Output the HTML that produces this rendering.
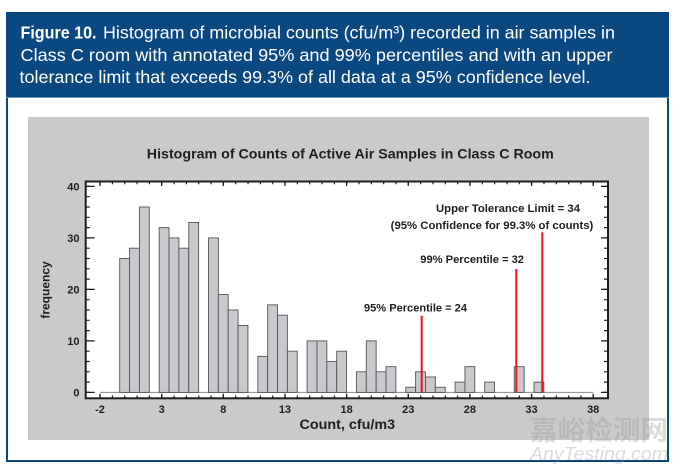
<!DOCTYPE html>
<html><head><meta charset="utf-8"><style>html,body{margin:0;padding:0;background:#fff;}svg{display:block;}</style></head>
<body>
<svg width="680" height="472" viewBox="0 0 680 472" xmlns="http://www.w3.org/2000/svg">
<rect x="0" y="0" width="680" height="472" fill="#fff"/>
<rect x="7" y="13" width="661" height="448" fill="#fff" stroke="#0a4882" stroke-width="2"/>
<rect x="6" y="12" width="663" height="85" fill="#0a4882"/>
<line x1="6" y1="97.5" x2="669" y2="97.5" stroke="#6d93bf" stroke-width="1"/>
<g font-family="'Liberation Sans', Arial, sans-serif" font-size="17.5" fill="#fff">
<text x="20.5" y="38.5" font-weight="bold" textLength="76" lengthAdjust="spacingAndGlyphs">Figure 10.</text>
<text x="103" y="38.5" textLength="512" lengthAdjust="spacingAndGlyphs">Histogram of microbial counts (cfu/m³) recorded in air samples in</text>
<text x="20.5" y="60.8" textLength="592" lengthAdjust="spacingAndGlyphs">Class C room with annotated 95% and 99% percentiles and with an upper</text>
<text x="19.5" y="83" textLength="571" lengthAdjust="spacingAndGlyphs">tolerance limit that exceeds 99.3% of all data at a 95% confidence level.</text>
</g>
<rect x="28" y="117" width="621" height="323" fill="#c9cacc"/>
<g font-family="'Liberation Sans', Arial, sans-serif" font-weight="bold" fill="#1e1e1e">
<text x="350.3" y="158.5" font-size="14" text-anchor="middle" textLength="407" lengthAdjust="spacingAndGlyphs">Histogram of  Counts of Active Air Samples in Class C Room</text>
</g>
<!-- plot area -->
<rect x="85.7" y="181.5" width="522.3" height="216.8" fill="#fff"/>
<line x1="100" y1="392.4" x2="593.2" y2="392.4" stroke="#8a8a8a" stroke-width="1"/>
<g fill="#c8c9cc" stroke="#555" stroke-width="0.9">
<rect x="119.70" y="258.5" width="9.86" height="133.9"/>
<rect x="129.56" y="248.2" width="9.86" height="144.2"/>
<rect x="139.43" y="207.0" width="9.86" height="185.4"/>
<rect x="159.16" y="227.6" width="9.86" height="164.8"/>
<rect x="169.02" y="237.9" width="9.86" height="154.5"/>
<rect x="178.88" y="248.2" width="9.86" height="144.2"/>
<rect x="188.75" y="222.45" width="9.86" height="169.95"/>
<rect x="208.48" y="237.9" width="9.86" height="154.5"/>
<rect x="218.34" y="294.55" width="9.86" height="97.85"/>
<rect x="228.20" y="310.0" width="9.86" height="82.4"/>
<rect x="238.07" y="325.45" width="9.86" height="66.95"/>
<rect x="257.80" y="356.35" width="9.86" height="36.05"/>
<rect x="267.66" y="304.85" width="9.86" height="87.55"/>
<rect x="277.52" y="315.15" width="9.86" height="77.25"/>
<rect x="287.39" y="351.2" width="9.86" height="41.2"/>
<rect x="307.12" y="340.9" width="9.86" height="51.5"/>
<rect x="316.98" y="340.9" width="9.86" height="51.5"/>
<rect x="326.84" y="361.5" width="9.86" height="30.9"/>
<rect x="336.71" y="351.2" width="9.86" height="41.2"/>
<rect x="356.44" y="371.8" width="9.86" height="20.6"/>
<rect x="366.30" y="340.9" width="9.86" height="51.5"/>
<rect x="376.16" y="371.8" width="9.86" height="20.6"/>
<rect x="386.03" y="366.65" width="9.86" height="25.75"/>
<rect x="405.76" y="387.25" width="9.86" height="5.15"/>
<rect x="415.62" y="371.8" width="9.86" height="20.6"/>
<rect x="425.48" y="376.95" width="9.86" height="15.45"/>
<rect x="435.35" y="387.25" width="9.86" height="5.15"/>
<rect x="455.08" y="382.1" width="9.86" height="10.3"/>
<rect x="464.94" y="366.65" width="9.86" height="25.75"/>
<rect x="484.67" y="382.1" width="9.86" height="10.3"/>
<rect x="514.26" y="366.65" width="9.86" height="25.75"/>
<rect x="533.99" y="382.1" width="9.86" height="10.3"/>
</g>
<!-- red lines -->
<g stroke="#e8141c" stroke-width="2">
<line x1="421.7" y1="315.7" x2="421.7" y2="392.4"/>
<line x1="516.3" y1="269" x2="516.3" y2="392.4"/>
<line x1="542.3" y1="232.3" x2="542.3" y2="392.4"/>
</g>
<!-- frame -->
<rect x="85.7" y="181.5" width="522.3" height="216.8" fill="none" stroke="#1e1e1e" stroke-width="2"/>
<!-- ticks -->
<g stroke="#1e1e1e" stroke-width="1.3" fill="none">
<!-- x minor ticks bottom/top -->
<line x1="99.5" y1="396.8" x2="594" y2="396.8" stroke-width="2.5" stroke-dasharray="1.2 11.13"/>
<line x1="99.5" y1="183" x2="594" y2="183" stroke-width="2.5" stroke-dasharray="1.2 11.13"/>
<!-- x major ticks -->
<path d="M100 398.3v-4.5M161.65 398.3v-4.5M223.3 398.3v-4.5M284.95 398.3v-4.5M346.6 398.3v-4.5M408.25 398.3v-4.5M469.9 398.3v-4.5M531.55 398.3v-4.5M593.2 398.3v-4.5
M100 181.5v4.5M161.65 181.5v4.5M223.3 181.5v4.5M284.95 181.5v4.5M346.6 181.5v4.5M408.25 181.5v4.5M469.9 181.5v4.5M531.55 181.5v4.5M593.2 181.5v4.5"/>
<!-- y minor ticks -->
<line x1="87.7" y1="393" x2="87.7" y2="185.5" stroke-width="4" stroke-dasharray="1.2 9.1"/>
<line x1="606" y1="393" x2="606" y2="185.5" stroke-width="4" stroke-dasharray="1.2 9.1"/>
<!-- y major ticks -->
<path d="M85.7 392.4h9M85.7 340.9h9M85.7 289.4h9M85.7 237.9h9M85.7 186.4h9
M608 392.4h-7M608 340.9h-7M608 289.4h-7M608 237.9h-7M608 186.4h-7"/>
</g>
<g font-family="'Liberation Sans', Arial, sans-serif" font-weight="bold" fill="#1e1e1e" font-size="11">
<text x="79.5" y="396.4" text-anchor="end">0</text>
<text x="79.5" y="344.9" text-anchor="end">10</text>
<text x="79.5" y="293.4" text-anchor="end">20</text>
<text x="79.5" y="241.9" text-anchor="end">30</text>
<text x="79.5" y="190.4" text-anchor="end">40</text>
<text x="100" y="413" text-anchor="middle">-2</text>
<text x="161.65" y="413" text-anchor="middle">3</text>
<text x="223.3" y="413" text-anchor="middle">8</text>
<text x="284.95" y="413" text-anchor="middle">13</text>
<text x="346.6" y="413" text-anchor="middle">18</text>
<text x="408.25" y="413" text-anchor="middle">23</text>
<text x="469.9" y="413" text-anchor="middle">28</text>
<text x="531.55" y="413" text-anchor="middle">33</text>
<text x="593.2" y="413" text-anchor="middle">38</text>
<text x="364" y="311.5" textLength="103" lengthAdjust="spacingAndGlyphs">95% Percentile = 24</text>
<text x="420.3" y="263" textLength="103.7" lengthAdjust="spacingAndGlyphs">99% Percentile = 32</text>
<text x="436" y="212" textLength="144" lengthAdjust="spacingAndGlyphs">Upper Tolerance Limit = 34</text>
<text x="390.7" y="228.8" textLength="202.6" lengthAdjust="spacingAndGlyphs">(95% Confidence for  99.3% of counts)</text>
<text x="347.3" y="429" font-size="13.5" text-anchor="middle" textLength="95.5" lengthAdjust="spacingAndGlyphs">Count, cfu/m3</text>
<text transform="translate(49.5 290) rotate(-90)" font-size="12" text-anchor="middle">frequency</text>
</g>
<!-- watermark -->
<g fill="#9a9a9a" opacity="0.35">
<text x="530" y="440" font-family="'Noto Sans CJK SC', 'WenQuanYi Zen Hei', sans-serif" font-weight="bold" font-size="27" textLength="138" lengthAdjust="spacingAndGlyphs">嘉峪检测网</text>
<text x="530" y="460" font-family="'Liberation Sans', Arial, sans-serif" font-style="italic" font-size="18" textLength="138" lengthAdjust="spacingAndGlyphs">AnyTesting.com</text>
</g>
</svg>
</body></html>
